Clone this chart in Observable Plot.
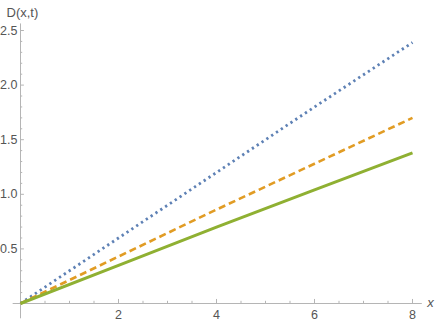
<!DOCTYPE html>
<html>
<head>
<meta charset="utf-8">
<script src="https://cdn.jsdelivr.net/npm/d3@7"></script>
<script src="https://cdn.jsdelivr.net/npm/@observablehq/plot@0.6"></script>
<style>
  body { margin: 0; background: #fff; }
</style>
</head>
<body>
<div id="chart"></div>
<script>
const xs = [0, 2, 4, 6, 8];
const blueVals = [0, 0.60, 1.20, 1.80, 2.39];
const orangeVals = [0, 0.43, 0.86, 1.28, 1.70];
const greenVals = [0, 0.35, 0.70, 1.04, 1.38];
const xTicks = [2, 4, 6, 8];
const yTicks = [0.5, 1.0, 1.5, 2.0, 2.5];
const xMinor = d3.range(0.5, 8.01, 0.5).filter(v => !xTicks.includes(v));
const yMinor = d3.range(1, 26).map(i => i / 10).filter(v => Math.round(v * 10) % 5 !== 0);

const series = [
  {name: "a", vals: blueVals, color: "#5E81B5", width: 2.8, dash: "2.3,3.5", cap: "butt"},
  {name: "b", vals: orangeVals, color: "#E19C24", width: 2.6, dash: "7,4", cap: "butt"},
  {name: "c", vals: greenVals, color: "#8FB032", width: 3, dash: null, cap: "butt"}
];

const axisColor = "#b5b5b5";
const labelColor = "#555";

const marks = [
  Plot.ruleY([0], {x1: -0.15, x2: 8.2, stroke: axisColor, strokeWidth: 1}),
  Plot.ruleX([0], {y1: -0.14, y2: 2.56, stroke: axisColor, strokeWidth: 1}),
  Plot.ruleX(xTicks, {y1: 0, y2: 0.037, stroke: axisColor}),
  Plot.ruleX(xMinor, {y1: 0, y2: 0.02, stroke: axisColor}),
  Plot.ruleY(yTicks, {x1: 0, x2: 0.08, stroke: axisColor}),
  Plot.ruleY(yMinor, {x1: 0, x2: 0.045, stroke: axisColor}),
  Plot.axisX({ticks: xTicks, tickSize: 0, tickPadding: 7, label: null, fill: labelColor, fontSize: 12.5, tickFormat: d => String(d)}),
  Plot.axisY({ticks: yTicks, tickSize: 0, tickPadding: 3, label: null, fill: labelColor, fontSize: 12.5, tickFormat: d3.format(".1f")}),
  Plot.text(["D(x,t)"], {frameAnchor: "top-left", dx: -14, dy: -18, textAnchor: "start", lineAnchor: "middle", fill: labelColor, fontSize: 13}),
  Plot.text(["x"], {frameAnchor: "bottom-right", dx: 18, dy: -1, textAnchor: "middle", lineAnchor: "middle", fill: labelColor, fontSize: 13, fontStyle: "italic"})
];

for (const s of series) {
  const data = xs.map((x, i) => ({x, y: s.vals[i]}));
  marks.push(Plot.line(data, {
    x: "x", y: "y", stroke: s.color, strokeWidth: s.width,
    strokeDasharray: s.dash, strokeLinecap: s.cap
  }));
}

const chart = Plot.plot({
  width: 436,
  height: 327,
  marginLeft: 20,
  marginRight: 24,
  marginTop: 30,
  marginBottom: 24,
  x: {domain: [0, 8], range: [20, 412]},
  y: {domain: [0, 2.5], range: [303, 30]},
  style: {fontFamily: "'Liberation Sans', Arial, sans-serif", fontSize: "12px", background: "#fff", overflow: "visible"},
  marks
});
document.getElementById("chart").appendChild(chart);
</script>
</body>
</html>
